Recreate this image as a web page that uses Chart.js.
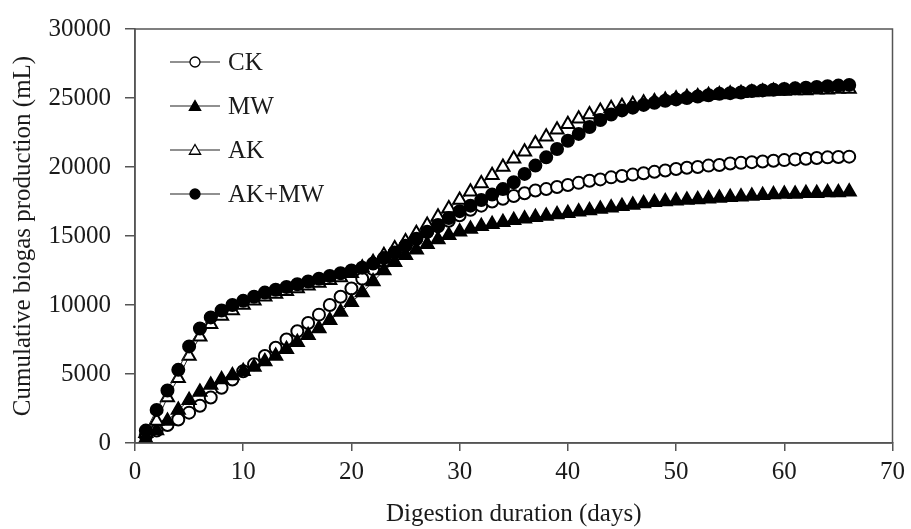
<!DOCTYPE html>
<html>
<head>
<meta charset="utf-8">
<script src="https://cdn.jsdelivr.net/npm/chart.js@4.4.1/dist/chart.umd.min.js"></script>
<style>
  body { margin: 0; background: #fff; }
  canvas { display: block; }
</style>
</head>
<body>
<canvas id="biogasChart" width="911" height="529"></canvas>
<script>
const days = [1, 2, 3, 4, 5, 6, 7, 8, 9, 10, 11, 12, 13, 14, 15, 16, 17, 18, 19, 20,
  21, 22, 23, 24, 25, 26, 27, 28, 29, 30, 31, 32, 33, 34, 35, 36, 37, 38, 39, 40,
  41, 42, 43, 44, 45, 46, 47, 48, 49, 50, 51, 52, 53, 54, 55, 56, 57, 58, 59, 60,
  61, 62, 63, 64, 65, 66];

const ck = [500, 900, 1300, 1700, 2200, 2700, 3300, 4000, 4600, 5200,
  5700, 6300, 6900, 7500, 8100, 8700, 9300, 10000, 10600, 11200,
  11900, 12600, 13200, 13800, 14300, 14800, 15300, 15700, 16100, 16500,
  16900, 17200, 17500, 17700, 17900, 18100, 18300, 18400, 18550, 18700,
  18850, 19000, 19100, 19250, 19350, 19450, 19550, 19650, 19750, 19850,
  19950, 20000, 20100, 20150, 20250, 20300, 20350, 20400, 20450, 20500,
  20550, 20600, 20650, 20700, 20720, 20750];

const mw = [300, 900, 1600, 2400, 3100, 3700, 4200, 4600, 4900, 5200,
  5500, 5900, 6300, 6800, 7300, 7800, 8300, 8900, 9500, 10200,
  10900, 11700, 12500, 13100, 13600, 14000, 14400, 14750, 15050, 15300,
  15500, 15700, 15850, 16000, 16150, 16250, 16350, 16450, 16550, 16650,
  16750, 16850, 16950, 17050, 17150, 17250, 17350, 17450, 17500, 17550,
  17600, 17650, 17700, 17750, 17800, 17850, 17900, 17950, 18000, 18050,
  18050, 18100, 18100, 18150, 18150, 18200];

const ak = [700, 1600, 3300, 4700, 6300, 7700, 8600, 9200, 9600, 10000,
  10300, 10600, 10800, 11000, 11200, 11400, 11600, 11800, 12000, 12300,
  12700, 13100, 13600, 14100, 14600, 15200, 15800, 16400, 17000, 17600,
  18200, 18800, 19400, 20000, 20600, 21100, 21700, 22200, 22700, 23100,
  23500, 23800, 24050, 24250, 24400, 24550, 24650, 24750, 24850, 24950,
  25050, 25100, 25200, 25250, 25300, 25350, 25400, 25450, 25500, 25500,
  25550, 25550, 25600, 25600, 25650, 25650];

const akMw = [900, 2400, 3800, 5300, 7000, 8300, 9100, 9600, 10000, 10300,
  10600, 10900, 11100, 11300, 11500, 11700, 11900, 12100, 12300, 12500,
  12700, 13000, 13400, 13800, 14300, 14800, 15300, 15800, 16300, 16800,
  17200, 17600, 18000, 18400, 18900, 19500, 20100, 20700, 21300, 21900,
  22400, 22900, 23400, 23800, 24100, 24300, 24500, 24650, 24800, 24900,
  25000, 25100, 25200, 25300, 25350, 25400, 25500, 25550, 25600, 25650,
  25700, 25750, 25800, 25850, 25900, 25950];

const seriesNames = ["CK", "MW", "AK", "AK+MW"];

const fontFamily = "'Liberation Serif', 'Times New Roman', serif";
const textColor = "#1a1a1a";
const axisColor = "#555";

function points(values) {
  return days.map((d, i) => ({ x: d, y: values[i] }));
}

function series(label, values, style, fill, radius, order) {
  return {
    label: label,
    data: points(values),
    borderColor: "#222",
    borderWidth: 1,
    pointStyle: style,
    pointRadius: radius,
    pointBackgroundColor: fill,
    pointBorderColor: "#000",
    pointBorderWidth: 2,
    tension: 0,
    order: order
  };
}

function drawMarker(c, style, x, y, r) {
  c.beginPath();
  if (style === "triangle") {
    c.moveTo(x, y - r);
    c.lineTo(x + r * 0.866, y + r * 0.5);
    c.lineTo(x - r * 0.866, y + r * 0.5);
    c.closePath();
  } else {
    c.arc(x, y, r, 0, Math.PI * 2);
  }
  c.fill();
  c.stroke();
}

// plot frame + legend in the top-left corner
const framePlugin = {
  id: "frame",
  afterDraw(chart) {
    const { ctx, chartArea } = chart;
    ctx.save();
    ctx.strokeStyle = axisColor;
    ctx.lineWidth = 1.5;
    ctx.strokeRect(chartArea.left, chartArea.top, chartArea.right - chartArea.left, chartArea.bottom - chartArea.top);

    chart.data.datasets.forEach((ds, i) => {
      const y = 62 + i * 44;
      ctx.strokeStyle = "#222";
      ctx.lineWidth = 1.2;
      ctx.beginPath();
      ctx.moveTo(170, y);
      ctx.lineTo(220, y);
      ctx.stroke();

      ctx.fillStyle = ds.pointBackgroundColor;
      ctx.strokeStyle = "#000";
      ctx.lineWidth = 1.3;
      if (ds.pointStyle === "triangle") {
        drawMarker(ctx, "triangle", 195, y + 1, 6.5);
      } else {
        drawMarker(ctx, "circle", 195, y, 5);
      }

      ctx.fillStyle = textColor;
      ctx.font = "25px " + fontFamily;
      ctx.textBaseline = "middle";
      ctx.textAlign = "left";
      ctx.fillText(ds.label, 228, y + 1);
    });
    ctx.restore();
  }
};

const ctx = document.getElementById("biogasChart").getContext("2d");

new Chart(ctx, {
  type: "line",
  data: {
    datasets: [
      series(seriesNames[0], ck, "circle", "#fff", 6, 4),
      series(seriesNames[1], mw, "triangle", "#000", 7.5, 3),
      series(seriesNames[2], ak, "triangle", "#fff", 7.5, 2),
      series(seriesNames[3], akMw, "circle", "#000", 6, 1)
    ]
  },
  options: {
    responsive: false,
    animation: false,
    layout: {
      padding: { left: 0, right: 17, top: 25, bottom: 0 }
    },
    plugins: {
      legend: { display: false },
      tooltip: { enabled: false }
    },
    scales: {
      x: {
        type: "linear",
        min: 0,
        max: 70,
        ticks: {
          stepSize: 10,
          color: textColor,
          font: { family: fontFamily, size: 25 },
          padding: 6,
          maxRotation: 0,
          callback: v => String(v)
        },
        grid: {
          drawOnChartArea: false,
          drawTicks: true,
          tickLength: 8,
          color: axisColor,
          lineWidth: 1.5
        },
        border: { display: true, color: axisColor, width: 1.5 },
        title: {
          display: true,
          text: "Digestion duration (days)",
          color: textColor,
          font: { family: fontFamily, size: 25 },
          padding: { top: 7, bottom: 0 }
        },
        afterFit(scale) { scale.height = 86; }
      },
      y: {
        min: 0,
        max: 30000,
        ticks: {
          stepSize: 5000,
          color: textColor,
          font: { family: fontFamily, size: 25 },
          padding: 14,
          callback: v => String(v)
        },
        grid: {
          drawOnChartArea: false,
          drawTicks: true,
          tickLength: 10,
          color: axisColor,
          lineWidth: 1.5
        },
        border: { display: true, color: axisColor, width: 1.5 },
        title: {
          display: true,
          text: "Cumulative biogas production (mL)",
          color: textColor,
          font: { family: fontFamily, size: 25 },
          padding: { top: 8, bottom: 0 }
        },
        afterFit(scale) { scale.width = 135; }
      }
    }
  },
  plugins: [framePlugin]
});
</script>
</body>
</html>
